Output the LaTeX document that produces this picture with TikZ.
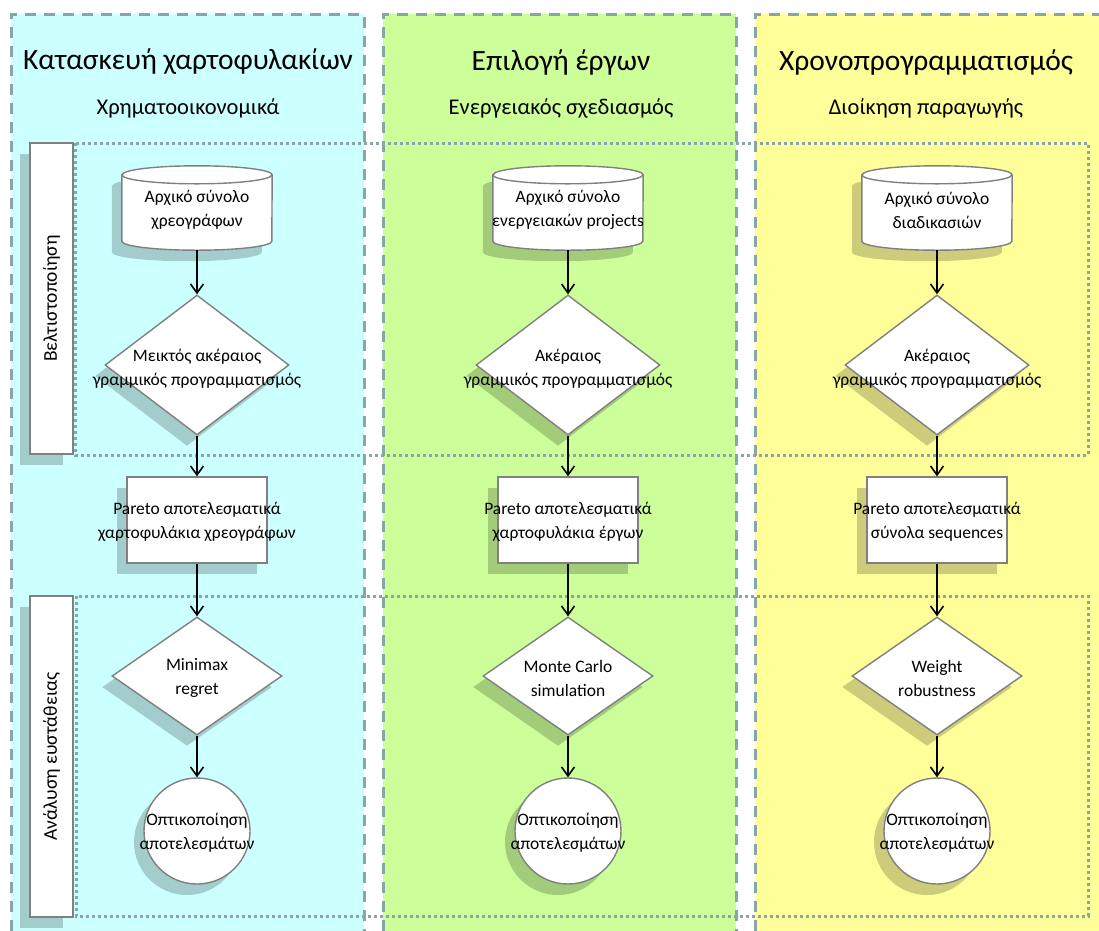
\documentclass[tikz,border=0pt]{standalone}
\usepackage{fontspec}
\setmainfont{Carlito}
\usetikzlibrary{arrows.meta,shapes.geometric,shadows}

\definecolor{pcyan}{RGB}{204,255,255}
\definecolor{pgreen}{RGB}{204,255,153}
\definecolor{pyellow}{RGB}{255,255,153}
\definecolor{bordc}{RGB}{138,165,168}
\definecolor{shapec}{RGB}{128,128,128}

\tikzset{
  panel/.style={draw=bordc, line width=3pt, dash pattern=on 11pt off 8pt},
  frame/.style={draw=bordc, line width=3pt, dash pattern=on 3pt off 3pt},
  shadowed/.style={drop shadow={shadow xshift=-10pt, shadow yshift=-11pt, fill=black, opacity=0.2}},
  box/.style={draw=shapec, line width=1.4pt, fill=white, shadowed},
  ghost/.style={draw=none, fill=none, inner sep=0pt},
  txt/.style={align=center, inner sep=0pt, font=\fontsize{17.5}{24}\selectfont},
  ttl/.style={font=\fontsize{29.5}{34}\selectfont, inner sep=0pt},
  sub/.style={font=\fontsize{22.5}{26}\selectfont, inner sep=0pt},
  side/.style={font=\fontsize{19.5}{22}\selectfont, inner sep=0pt, rotate=90},
  arr/.style={draw=black, line width=1.6pt, -{Straight Barb[length=9pt,width=13pt,line width=1.6pt]}},
  dmd/.style={box, diamond, inner sep=0pt},
}

\newcommand\flowcol[6]{%
  \node[ghost, minimum width=150pt, minimum height=84pt] (#1cy) at (#2,-208) {};
  \draw[box] ([yshift=-9pt]#1cy.north west) -- ([yshift=9pt]#1cy.south west)
     arc[start angle=180, end angle=360, x radius=75pt, y radius=9pt]
     -- ([yshift=-9pt]#1cy.north east)
     arc[start angle=0, end angle=180, x radius=75pt, y radius=9pt] -- cycle;
  \draw[draw=shapec, line width=1.4pt] ([yshift=-9pt]#1cy.north west)
     arc[start angle=180, end angle=360, x radius=75pt, y radius=9pt];
  \node[txt] (#1cyt) at ([yshift=-2pt]#1cy.center) {#3};
  \node[dmd, minimum width=184pt, minimum height=140pt] (#1da) at (#2,-365) {};
  \node[txt] (#1dat) at ([yshift=-4pt]#1da.center) {#4};
  \node[box, minimum width=140pt, minimum height=86pt, inner sep=0pt] (#1re) at (#2,-520) {};
  \node[txt] (#1ret) at ([yshift=-2pt]#1re.center) {#5};
  \node[dmd, minimum width=170pt, minimum height=118pt] (#1db) at (#2,-676) {};
  \node[txt] (#1dbt) at ([yshift=-2pt]#1db.center) {#6};
  \node[box, circle, minimum size=106pt, inner sep=0pt] (#1ci) at (#2,-831) {};
  \node[txt] (#1cit) at ([yshift=-2pt]#1ci.center) {Οπτικοποίηση\\αποτελεσμάτων};
  \draw[arr] (#1cy.south) -- (#1da.north);
  \draw[arr] (#1da.south) -- (#1re.north);
  \draw[arr] (#1re.south) -- (#1db.north);
  \draw[arr] (#1db.south) -- (#1ci.north);
}

\begin{document}
\begin{tikzpicture}[x=1pt,y=1pt]
\useasboundingbox (0,0) rectangle (1099,-930);
\clip (0,0) rectangle (1099,-930);
\fill[white] (0,0) rectangle (1099,-930);

% panels
\fill[pcyan] (11,-14) rectangle (364,-950);
\fill[pgreen] (383,-14) rectangle (736,-950);
\fill[pyellow] (755,-14) rectangle (1110,-950);
\draw[panel] (11,-950) -- (11,-14) -- (364,-14) -- (364,-950);
\draw[panel] (383,-950) -- (383,-14) -- (736,-14) -- (736,-950);
\draw[panel] (755,-950) -- (755,-14) -- (1110,-14);

% headers
\node[ttl] (t1) at (188,-62) {Κατασκευή χαρτοφυλακίων};
\node[sub] (s1) at (188,-108) {Χρηματοοικονομικά};
\node[ttl] (t2) at (561,-62) {Επιλογή έργων};
\node[sub] (s2) at (561,-108) {Ενεργειακός σχεδιασμός};
\node[ttl] (t3) at (926,-62) {Χρονοπρογραμματισμός};
\node[sub] (s3) at (926,-108) {Διοίκηση παραγωγής};

% dotted frames
\draw[frame] (75,-143) rectangle (1088,-455);
\draw[frame] (76,-596) rectangle (1088,-916);

% side labels
\node[box, minimum width=43pt, minimum height=311pt, inner sep=0pt] (l1) at (51.5,-298.5) {};
\node[side] (l1t) at (l1.center) {Βελτιστοποίηση};
\node[box, minimum width=43pt, minimum height=321pt, inner sep=0pt] (l2) at (51.5,-756.5) {};
\node[side] (l2t) at (l2.center) {Ανάλυση ευστάθειας};

% columns
\flowcol{a}{197}{Αρχικό σύνολο\\χρεογράφων}{Μεικτός ακέραιος\\γραμμικός προγραμματισμός}{Pareto αποτελεσματικά\\χαρτοφυλάκια χρεογράφων}{Minimax\\regret}
\flowcol{b}{568}{Αρχικό σύνολο\\ενεργειακών projects}{Ακέραιος\\γραμμικός προγραμματισμός}{Pareto αποτελεσματικά\\χαρτοφυλάκια έργων}{Monte Carlo\\simulation}
\flowcol{c}{937}{Αρχικό σύνολο\\διαδικασιών}{Ακέραιος\\γραμμικός προγραμματισμός}{Pareto αποτελεσματικά\\σύνολα sequences}{Weight\\robustness}
\end{tikzpicture}
\end{document}
